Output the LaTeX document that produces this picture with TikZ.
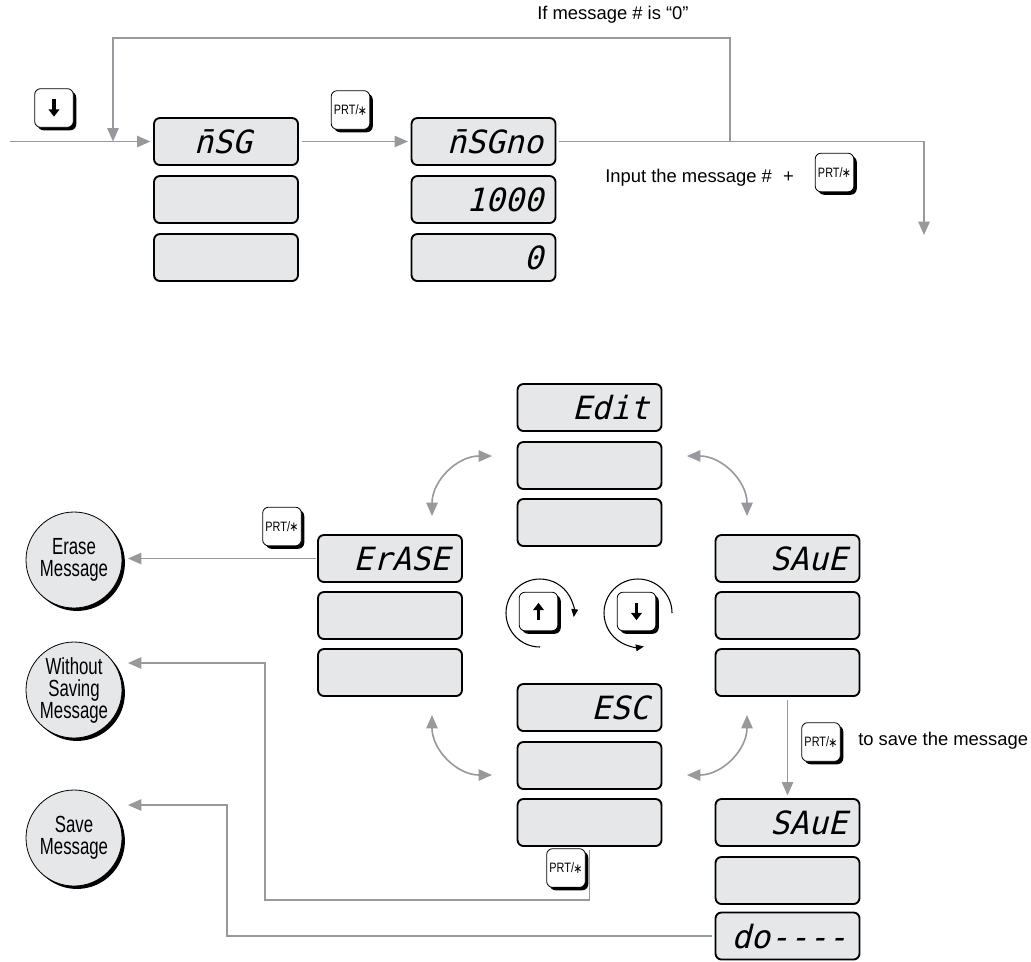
\documentclass[tikz,border=0pt]{standalone}
\usepackage{fontspec}
\setmainfont{Liberation Sans}
\newfontfamily\condfont[FakeStretch=0.72]{Liberation Sans}
\newfontfamily\keyfont[FakeStretch=0.8]{Liberation Sans}
\newfontfamily\segfont[FakeSlant=0.25]{DejaVu Sans Mono}
\newfontfamily\symfont[FakeStretch=0.8]{DejaVu Sans}
\usetikzlibrary{arrows.meta,shadows}
\definecolor{lcdgray}{RGB}{230,231,232}
\definecolor{conncol}{RGB}{152,152,157}
\newcommand{\prtlabel}{PRT/\kern-0.5pt{\symfont\raisebox{-0.05ex}{∗}}}
\begin{document}
\begin{tikzpicture}[x=0.75pt,y=-0.75pt,
  lcd/.style={draw=black,line width=1.4pt,fill=lcdgray,rounded corners=4.5pt,minimum width=108pt,minimum height=35.25pt,inner sep=0pt},
  segtext/.style={anchor=base east,inner sep=0pt,font=\segfont\fontsize{24}{24}\selectfont},
  keybtn/.style={draw=black,line width=0.6pt,fill=white,rounded corners=4.5pt,minimum width=29pt,minimum height=29pt,inner sep=0pt,
     drop shadow={shadow xshift=2.2pt,shadow yshift=-2.2pt,fill=black,opacity=1},font=\keyfont\fontsize{10.2}{10.2}\selectfont},
  endcirc/.style={circle,draw=black,line width=0.6pt,fill=lcdgray,minimum size=72pt,inner sep=0pt,align=center,
     drop shadow={shadow xshift=2.2pt,shadow yshift=-2.2pt,fill=black,opacity=1},font=\condfont\fontsize{17.5}{16.5}\selectfont},
  conn/.style={draw=conncol,line width=1.2pt},
  connarr/.style={conn,-{Triangle[length=10pt,width=8.5pt]}},
  conntwo/.style={conn,{Triangle[length=10pt,width=8.5pt]}-{Triangle[length=10pt,width=8.5pt]}},
  rotarrow/.style={draw=black,line width=0.8pt,-{Triangle[length=6pt,width=5pt]}},
  keyarrow/.style={line width=2.4pt,-{Triangle[length=5.5pt,width=8pt]}},
  lbl/.style={font=\fontsize{13.8}{16}\selectfont,inner sep=0pt}
]
\useasboundingbox (0,0) rectangle (1031,961);

% ---------- top displays
\node[lcd] (msg1) at (226,141.5) {};
\node[lcd] (msg2) at (226,199.5) {};
\node[lcd] (msg3) at (226,257.5) {};
\node[segtext] (msgt) at (252,153.5) {n̄SG};

\node[lcd] (no1) at (483.5,141.5) {};
\node[lcd] (no2) at (483.5,199.5) {};
\node[lcd] (no3) at (483.5,257.5) {};
\node[segtext] (not1) at (543.5,153.5) {n̄SGno};
\node[segtext] (not2) at (543.5,211.5) {1000};
\node[segtext] (not3) at (543.5,269.5) {0};

% ---------- keys (top)
\node[keybtn] (kdown) at (54,108) {};
\draw[keyarrow] ([yshift=6.5pt]kdown.center) -- ([yshift=-6.5pt]kdown.center);
\node[keybtn] (kp1) at (350.5,110) {\prtlabel};
\node[keybtn] (kp2) at (834.5,172.5) {\prtlabel};

% ---------- top texts
\node[lbl,anchor=base west] (t0) at (537,19) {If message \# is “0”};
\node[lbl,anchor=base west] (t1) at (605,182) {Input the message \#\hspace{0.6em}+};

% ---------- top connectors
\coordinate (in) at (10,141.5);
\coordinate (j) at (730,141.5);
\coordinate (loopR) at (730,38);
\coordinate (loopL) at (113,38);
\coordinate (loopE) at (113,141.5);
\coordinate (outC) at (924,141.5);
\coordinate (outE) at (924,235);
\draw[connarr,shorten >=2pt] (in) -- (msg1.west);
\draw[connarr,shorten <=2pt,shorten >=2pt] (msg1.east) -- (no1.west);
\draw[connarr,shorten <=2pt] (no1.east) -- (outC) -- (outE);
\draw[connarr] (j) -- (loopR) -- (loopL) -- (loopE);

% ---------- bottom displays
\node[lcd] (ed1) at (589.5,407.5) {};
\node[lcd] (ed2) at (589.5,465.5) {};
\node[lcd] (ed3) at (589.5,522.5) {};
\node[segtext] (edt) at (649.5,419.5) {Edit};

\node[lcd] (er1) at (390,558.5) {};
\node[lcd] (er2) at (390,615.5) {};
\node[lcd] (er3) at (390,672.5) {};
\node[segtext] (ert) at (450,570.5) {ErASE};

\node[lcd] (sr1) at (787.5,558.5) {};
\node[lcd] (sr2) at (787.5,615.5) {};
\node[lcd] (sr3) at (787.5,672.5) {};
\node[segtext] (srt) at (847.5,570.5) {SAuE};

\node[lcd] (es1) at (589.5,707.5) {};
\node[lcd] (es2) at (589.5,765.5) {};
\node[lcd] (es3) at (589.5,822.5) {};
\node[segtext] (est) at (649.5,719.5) {ESC};

\node[lcd] (sb1) at (787.5,822.5) {};
\node[lcd] (sb2) at (787.5,880.5) {};
\node[lcd] (sb3) at (787.5,936) {};
\node[segtext] (sbt1) at (847.5,834.5) {SAuE};
\node[segtext] (sbt3) at (847.5,948) {do----};

% ---------- end circles
\node[endcirc] (erase) at (74,560) {Erase\\Message};
\node[endcirc] (without) at (74,690) {Without\\Saving\\Message};
\node[endcirc] (save) at (74,838) {Save\\Message};

% ---------- bottom keys
\node[keybtn] (kp3) at (282,526.5) {\prtlabel};
\node[keybtn] (kp4) at (821,742) {\prtlabel};
\node[keybtn] (kp5) at (566,868) {\prtlabel};
\node[keybtn] (kup) at (538.5,611.5) {};
\draw[keyarrow] ([yshift=-6.5pt]kup.center) -- ([yshift=6.5pt]kup.center);
\node[keybtn] (kdn) at (636.5,611.5) {};
\draw[keyarrow] ([yshift=6.5pt]kdn.center) -- ([yshift=-6.5pt]kdn.center);

% rotation arcs
\coordinate (upc) at (540,613);
\coordinate (dnc) at (638,613);
\draw[rotarrow] ([shift={(90:34)}]upc) arc[start angle=90,end angle=367,radius=34];
\draw[rotarrow] ([shift={(0:34)}]dnc) arc[start angle=0,end angle=-280,radius=34];

\node[lbl,anchor=base west] (t2) at (858,745) {to save the message};

% ---------- curved double arrows
\coordinate (c1a) at (432,516); \coordinate (c1b) at (492,456);
\coordinate (c2a) at (687,456); \coordinate (c2b) at (747,516);
\coordinate (c3a) at (432,715); \coordinate (c3b) at (492,775);
\coordinate (c4a) at (747,715); \coordinate (c4b) at (687,775);
\draw[conntwo] (c1a) .. controls (432,481) and (457,456) .. (c1b);
\draw[conntwo] (c2a) .. controls (722,456) and (747,481) .. (c2b);
\draw[conntwo] (c3a) .. controls (432,750) and (457,775) .. (c3b);
\draw[conntwo] (c4a) .. controls (747,750) and (722,775) .. (c4b);

% ---------- bottom connectors
\coordinate (eraseTip) at (128,558.5);
\draw[connarr,shorten <=1pt] (er1.west) -- (eraseTip);
\coordinate (w1) at (589.5,900);
\coordinate (w2) at (265,900);
\coordinate (w3) at (265,663);
\coordinate (wTip) at (128,663);
\draw[connarr,shorten <=2pt] (es3.south) -- (w1) -- (w2) -- (w3) -- (wTip);
\coordinate (s1) at (227,936);
\coordinate (s2) at (227,805);
\coordinate (sTip) at (128,805);
\draw[connarr,shorten <=2pt] (sb3.west) -- (s1) -- (s2) -- (sTip);
\draw[connarr,shorten <=2pt,shorten >=2pt] (sr3.south) -- (sb1.north);
\end{tikzpicture}
\end{document}
